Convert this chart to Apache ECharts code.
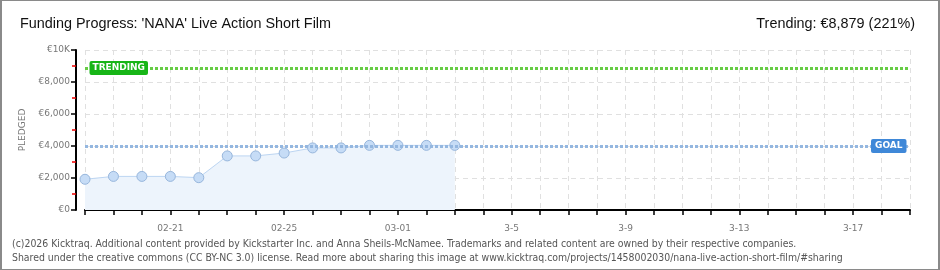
<!DOCTYPE html>
<html><head><meta charset="utf-8">
<script src="https://cdn.jsdelivr.net/npm/echarts@6/dist/echarts.min.js"></script>
<style>
html,body{margin:0;padding:0;background:#fff;}
#wrap{position:relative;width:940px;height:270px;}
#chart{position:absolute;left:0;top:0;width:940px;height:270px;}
#frame{position:absolute;left:0;top:0;width:940px;height:270px;box-sizing:border-box;border:1px solid #8a8a8a;border-left-width:2px;border-right-width:2px;pointer-events:none;}
</style></head>
<body><div id="wrap"><div id="chart"></div><div id="frame"></div></div>
<script>
const titleText = "Funding Progress: 'NANA' Live Action Short Film";
const trendingText = "Trending: €8,879 (221%)";
const footer1 = "(c)2026 Kicktraq. Additional content provided by Kickstarter Inc. and Anna Sheils-McNamee. Trademarks and related content are owned by their respective companies.";
const footer2 = "Shared under the creative commons (CC BY-NC 3.0) license. Read more about sharing this image at www.kicktraq.com/projects/1458002030/nana-live-action-short-film/#sharing";
const days = ["02-18","02-19","02-20","02-21","02-22","02-23","02-24","02-25","02-26","02-27","02-28","03-01","03-02","03-03","03-04","03-05","03-06","03-07","03-08","03-09","03-10","03-11","03-12","03-13","03-14","03-15","03-16","03-17","03-18","03-19"];
const tickLabels = {"02-21":"02-21","02-25":"02-25","03-01":"03-01","03-05":"3-5","03-09":"3-9","03-13":"3-13","03-17":"3-17"};
const pledged = [1920, 2100, 2100, 2100, 2020, 3380, 3380, 3560, 3880, 3880, 4040, 4040, 4040, 4040];
const goal = 4000;
const trending = 8879;
const yTicks = {0:"€0",2000:"€2,000",4000:"€4,000",6000:"€6,000",8000:"€8,000",10000:"€10K"};

const chart = echarts.init(document.getElementById('chart'), null, {renderer:'canvas'});
const pixFont = "DejaVu Sans";
const headFont = "Liberation Sans";
chart.setOption({
  animation:false,
  backgroundColor:'#fff',
  title:[
    {text:titleText,left:15,top:12,textStyle:{fontFamily:headFont,fontWeight:'normal',fontSize:14.4,color:'#111'}},
    {text:trendingText,right:20,top:12,textStyle:{fontFamily:headFont,fontWeight:'normal',fontSize:14.4,color:'#111'}},
    {text:footer1+"\n"+footer2,left:7,top:232,textStyle:{fontFamily:"DejaVu Sans Condensed, DejaVu Sans",fontWeight:'normal',fontSize:10.4,lineHeight:14,color:'#555'}}
  ],
  grid:{left:85,right:30,top:50,height:160},
  xAxis:{
    type:'category',data:days,boundaryGap:false,offset:10,
    axisLine:{lineStyle:{color:'#000',width:2}},
    axisTick:{show:true,interval:0,length:5,lineStyle:{color:'#000',width:1.5}},
    axisLabel:{interval:0,formatter:v=>tickLabels[v]||'',color:'#777',fontFamily:pixFont,fontSize:9,margin:4},
    splitLine:{show:true,interval:0,lineStyle:{color:'#e0e0e0',type:[5,4]}}
  },
  yAxis:{
    type:'value',min:0,max:10000,interval:2000,offset:9,
    name:'PLEDGED',nameLocation:'middle',nameGap:49,nameRotate:90,
    nameTextStyle:{color:'#777',fontFamily:pixFont,fontSize:9},
    axisLine:{show:true,lineStyle:{color:'#000',width:2}},
    axisTick:{show:true,length:5,lineStyle:{color:'#000',width:1.5}},
    minorTick:{show:true,splitNumber:2,length:4,lineStyle:{color:'#e00',width:1.5}},
    axisLabel:{formatter:v=>yTicks[v]!==undefined?yTicks[v]:'',color:'#777',fontFamily:pixFont,fontSize:9,margin:6},
    splitLine:{show:true,lineStyle:{color:'#e0e0e0',type:[5,4]}}
  },
  series:[{
    type:'line',data:pledged,symbol:'circle',symbolSize:10,
    itemStyle:{color:'#c6dcf6',borderColor:'#97b6dc',borderWidth:1},
    lineStyle:{color:'#bcd5f2',width:1},
    areaStyle:{color:'#edf4fc',opacity:1},
    z:3,
    markLine:{
      silent:true,symbol:'none',
      data:[
        {yAxis:trending,lineStyle:{color:'#66cc44',type:[3,2],width:3},
         label:{show:true,position:'start',distance:-63,formatter:'TRENDING',color:'#fff',backgroundColor:'#17b517',borderRadius:2,padding:[3,3,2,3],fontFamily:pixFont,fontWeight:'bold',fontSize:9}},
        {yAxis:goal,lineStyle:{color:'#94b7e0',type:[3,2],width:3},
         label:{show:true,position:'end',distance:-39,formatter:'GOAL',color:'#fff',backgroundColor:'#3f88d8',borderRadius:2,padding:[3,4,2,4],fontFamily:pixFont,fontWeight:'bold',fontSize:9}}
      ]
    }
  }]
});
</script></body></html>
